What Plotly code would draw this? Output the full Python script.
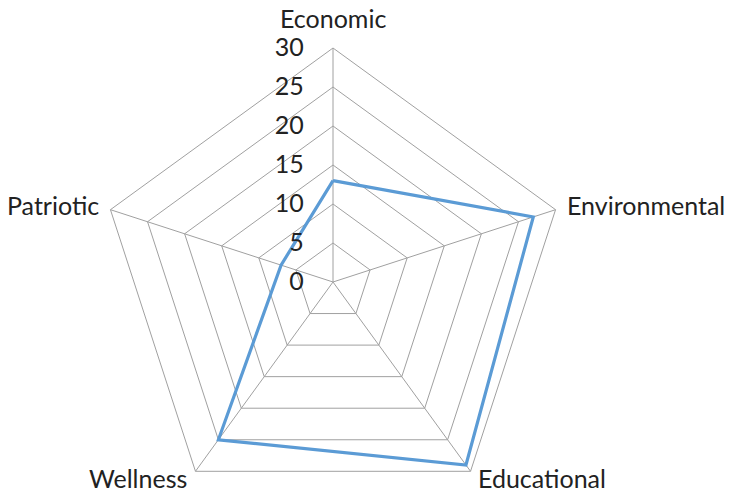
import plotly.graph_objects as go

categories = ["Economic", "Environmental", "Educational", "Wellness", "Patriotic"]
values = [13, 27, 29, 25, 7]
radial_ticks = [0, 5, 10, 15, 20, 25, 30]

FIG_W, FIG_H = 729, 516
GRID = "#A0A0A0"
font = dict(family="Lato, Carlito, sans-serif", size=25, color="#222222")

# Category label placement around the pentagon (pixel anchor, alignment)
label_layout = {
    "Economic": (333, 18, "center"),
    "Environmental": (565, 205, "left"),
    "Educational": (476, 478, "left"),
    "Wellness": (189, 478, "right"),
    "Patriotic": (101, 205, "right"),
}

fig = go.Figure()
fig.add_trace(go.Scatterpolar(
    r=values + values[:1],
    theta=categories + categories[:1],
    mode="lines",
    line=dict(color="#5B9BD5", width=3.2),
    hoverinfo="skip",
    showlegend=False,
))

annotations = []
for name in categories:
    px, py, align = label_layout[name]
    annotations.append(dict(
        text=name, x=px / FIG_W, y=1 - py / FIG_H,
        xref="paper", yref="paper",
        xanchor=align, yanchor="middle",
        showarrow=False, font=font,
    ))

fig.update_layout(
    width=FIG_W,
    height=FIG_H,
    autosize=False,
    margin=dict(l=0, r=0, t=0, b=0),
    paper_bgcolor="white",
    plot_bgcolor="white",
    font=font,
    annotations=annotations,
    polar=dict(
        bgcolor="white",
        gridshape="linear",
        domain=dict(x=[99 / FIG_W, 567 / FIG_W], y=[0, 1 - 48 / FIG_H]),
        angularaxis=dict(
            direction="clockwise",
            rotation=90,
            showline=True,
            linecolor=GRID,
            linewidth=1,
            showgrid=True,
            gridcolor=GRID,
            gridwidth=1,
            ticks="",
            showticklabels=False,
        ),
        radialaxis=dict(
            range=[0, 30],
            tickvals=radial_ticks,
            ticktext=[str(v) for v in radial_ticks],
            angle=90,
            side="counterclockwise",
            showline=False,
            showgrid=True,
            gridcolor=GRID,
            gridwidth=1,
            ticks="outside",
            ticklen=20,
            tickcolor="rgba(0,0,0,0)",
            tickangle=90,
            tickfont=font,
        ),
    ),
)

fig.write_html(
    "out.html",
    post_script="document.documentElement.style.overflow='hidden';document.body.style.overflow='hidden';",
)
